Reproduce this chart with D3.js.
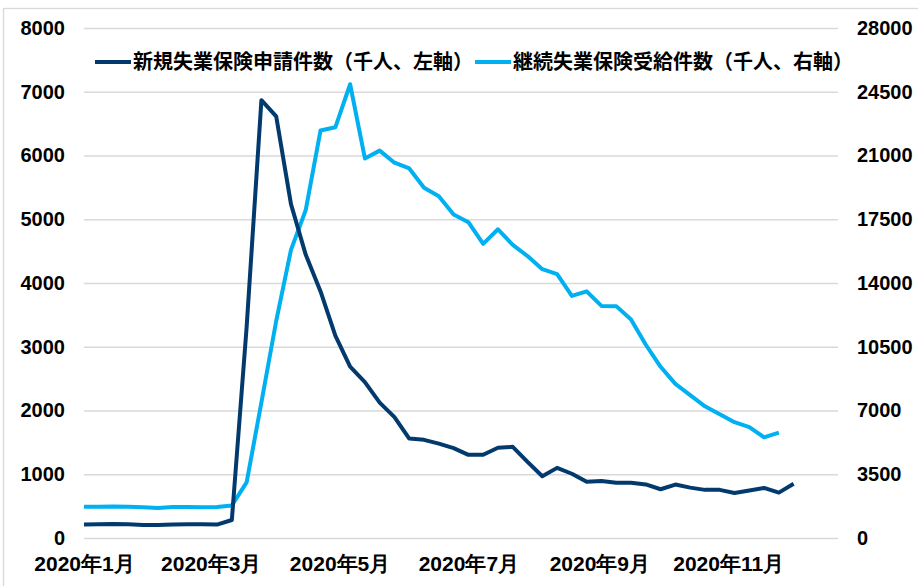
<!DOCTYPE html>
<html>
<head>
<meta charset="utf-8">
<style>
  body {
    margin: 0;
    background: #fff;
    font-family: "Liberation Sans", Arial, "Noto Sans CJK JP", sans-serif;
  }
  .axis text {
    font-size: 20px;
    font-weight: bold;
    fill: #000;
  }
  .axis.x text {
    font-size: 21px;
  }
  .axis .domain {
    display: none;
  }
  .grid line {
    stroke: #d9d9d9;
    stroke-width: 1.3px;
  }
  .grid .domain {
    display: none;
  }
  .legend text {
    font-family: "Noto Sans CJK JP", sans-serif;
    font-size: 20px;
    font-weight: bold;
    fill: #000;
  }
</style>
</head>
<body>
<svg id="chart" width="918" height="586"></svg>
<script src="https://cdn.jsdelivr.net/npm/d3@7"></script>
<script>
// weekly data, thousands
var weeks = [
  "2020-01-04", "2020-01-11", "2020-01-18", "2020-01-25", "2020-02-01", "2020-02-08", "2020-02-15",
  "2020-02-22", "2020-02-29", "2020-03-07", "2020-03-14", "2020-03-21", "2020-03-28", "2020-04-04",
  "2020-04-11", "2020-04-18", "2020-04-25", "2020-05-02", "2020-05-09", "2020-05-16", "2020-05-23",
  "2020-05-30", "2020-06-06", "2020-06-13", "2020-06-20", "2020-06-27", "2020-07-04", "2020-07-11",
  "2020-07-18", "2020-07-25", "2020-08-01", "2020-08-08", "2020-08-15", "2020-08-22", "2020-08-29",
  "2020-09-05", "2020-09-12", "2020-09-19", "2020-09-26", "2020-10-03", "2020-10-10", "2020-10-17",
  "2020-10-24", "2020-10-31", "2020-11-07", "2020-11-14", "2020-11-21", "2020-11-28", "2020-12-05"
];

var initialClaims = [
  211, 214, 220, 216, 203, 204, 210, 214, 217, 211, 282, 3307, 6867, 6615,
  5237, 4442, 3867, 3176, 2687, 2446, 2123, 1897, 1560, 1540, 1480, 1410,
  1305, 1305, 1415, 1430, 1195, 968, 1100, 1008, 882, 893, 868, 868,
  840, 765, 838, 790, 755, 755, 705, 745, 785, 712, 850
];

var continuedClaims = [
  1720, 1720, 1730, 1710, 1690, 1650, 1700, 1700, 1690, 1700, 1790, 3050, 7450, 11914,
  15819, 18011, 22377, 22548, 24912, 20838, 21268, 20606, 20289, 19231, 18760, 17760,
  17338, 16151, 16951, 16090, 15480, 14759, 14492, 13292, 13544, 12740, 12730, 12000,
  10610, 9400, 8460, 7840, 7230, 6800, 6360, 6085, 5527, 5781, null
];

var leftTicks = [0, 1000, 2000, 3000, 4000, 5000, 6000, 7000, 8000];
var rightTicks = [0, 3500, 7000, 10500, 14000, 17500, 21000, 24500, 28000];

var xTickDates = ["2020-01-04", "2020-03-04", "2020-05-04", "2020-07-04", "2020-09-04", "2020-11-04"];
var xTickLabels = ["2020年1月", "2020年3月", "2020年5月", "2020年7月", "2020年9月", "2020年11月"];

var seriesNames = ["新規失業保険申請件数（千人、左軸）", "継続失業保険受給件数（千人、右軸）"];
var seriesColors = ["#023a6e", "#00b0f0"];

var parse = d3.timeParse("%Y-%m-%d");

var margin = {top: 28, right: 80, bottom: 48, left: 84};
var W = 918, H = 586;
var width = W - margin.left - margin.right,
    height = H - margin.top - margin.bottom;

var svg = d3.select("#chart");

// outer frame
svg.append("rect")
    .attr("x", 3.5).attr("y", 8.5)
    .attr("width", 920).attr("height", 600)
    .attr("fill", "none")
    .attr("stroke", "#d9d9d9")
    .attr("stroke-width", 1.3);

var g = svg.append("g")
    .attr("transform", "translate(" + margin.left + "," + margin.top + ")");

var x = d3.scaleTime()
    .domain([parse("2020-01-04"), parse("2020-12-26")])
    .range([0, width]);

var yL = d3.scaleLinear().domain([0, 8000]).range([height, 0]);
var yR = d3.scaleLinear().domain([0, 28000]).range([height, 0]);

// gridlines
g.append("g")
    .attr("class", "grid")
    .call(d3.axisLeft(yL).tickValues(leftTicks).tickSize(-width).tickFormat(""));

// axes
g.append("g")
    .attr("class", "axis")
    .call(d3.axisLeft(yL).tickValues(leftTicks).tickSize(0).tickPadding(19).tickFormat(d3.format("d")));

g.append("g")
    .attr("class", "axis")
    .attr("transform", "translate(" + width + ",0)")
    .call(d3.axisRight(yR).tickValues(rightTicks).tickSize(0).tickPadding(19).tickFormat(d3.format("d")));

g.append("g")
    .attr("class", "axis x")
    .attr("transform", "translate(0," + height + ")")
    .call(d3.axisBottom(x)
      .tickValues(xTickDates.map(parse))
      .tickSize(0)
      .tickPadding(18)
      .tickFormat(function(d, i){ return xTickLabels[i]; }));

// lines
var lineL = d3.line()
    .defined(function(d){ return d.v != null; })
    .x(function(d){ return x(d.date); })
    .y(function(d){ return yL(d.v); });

var lineR = d3.line()
    .defined(function(d){ return d.v != null; })
    .x(function(d){ return x(d.date); })
    .y(function(d){ return yR(d.v); });

var dataL = weeks.map(function(w, i){ return {date: parse(w), v: initialClaims[i]}; });
var dataR = weeks.map(function(w, i){ return {date: parse(w), v: continuedClaims[i]}; });

g.append("path")
    .datum(dataR)
    .attr("fill", "none")
    .attr("stroke", seriesColors[1])
    .attr("stroke-width", 4)
    .attr("stroke-linejoin", "round")
    .attr("d", lineR);

g.append("path")
    .datum(dataL)
    .attr("fill", "none")
    .attr("stroke", seriesColors[0])
    .attr("stroke-width", 4)
    .attr("stroke-linejoin", "round")
    .attr("d", lineL);

// legend
var legend = svg.append("g").attr("class", "legend");
var legendX = [95, 475];
seriesNames.forEach(function(name, i){
  var item = legend.append("g").attr("transform", "translate(" + legendX[i] + ",62)");
  item.append("line")
      .attr("x1", 0).attr("x2", 36)
      .attr("stroke", seriesColors[i])
      .attr("stroke-width", 4);
  item.append("text")
      .attr("x", 38)
      .attr("dy", "0.36em")
      .text(name);
});
</script>
</body>
</html>
